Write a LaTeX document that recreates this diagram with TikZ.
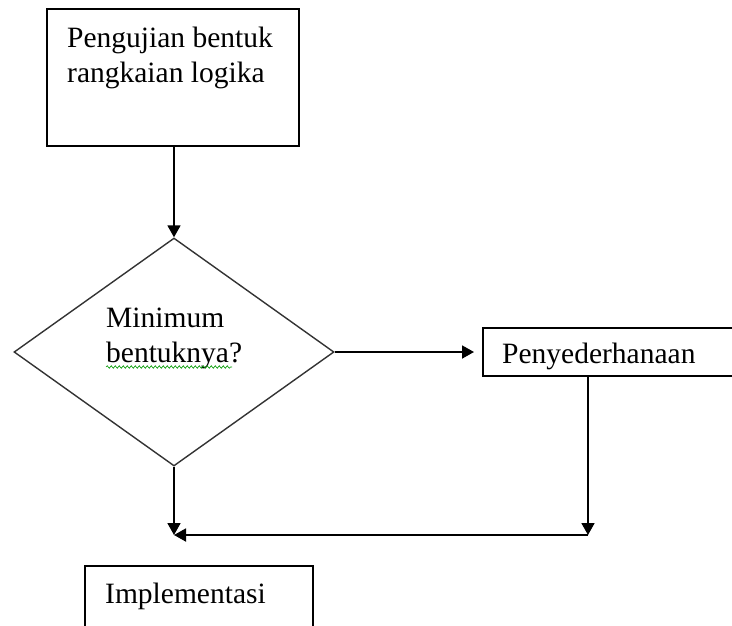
\documentclass[tikz,border=0pt]{standalone}
\usepackage{fontspec}
\setmainfont{Liberation Serif}
\usetikzlibrary{arrows.meta,shapes.geometric,decorations.pathmorphing}
\tikzset{
  box/.style={draw=black, line width=1.8pt, rectangle, inner sep=0pt, anchor=north west},
  dia/.style={draw=black!80, line width=1.4pt, diamond, inner sep=0pt, minimum width=320pt, minimum height=228pt},
  lbl/.style={inner sep=0pt, anchor=base west, align=left, font=\fontsize{29.5}{34.5}\selectfont},
  arr/.style={line width=1.8pt, -{Triangle[length=12pt,width=13pt]}},
  ln/.style={line width=1.8pt}
}
\begin{document}
\begin{tikzpicture}[x=1pt,y=1pt]
\useasboundingbox (0,0) rectangle (732,-625);
\clip (0,0) rectangle (732,-625);
% top box
\node[box, minimum width=252pt, minimum height=137pt] (top) at (46,-8) {};
\node[lbl] (toptxt) at (67,-82) {Pengujian bentuk\\rangkaian logika};
% diamond
\node[dia] (dec) at (174,-352) {};
\node[lbl] (dectxt) at (106,-362) {Minimum\\bentuknya?};
\draw[green!60!black, line width=0.6pt, decorate, decoration={snake, amplitude=1.3pt, segment length=4pt}] (106,-367) -- (232,-367);
% simplification box
\node[box, minimum width=300pt, minimum height=48pt] (simp) at (482,-327) {};
\node[lbl] (simptxt) at (502,-363) {Penyederhanaan};
% implementation box
\node[box, minimum width=228pt, minimum height=100pt] (impl) at (84,-565) {};
\node[lbl] (impltxt) at (105,-603) {Implementasi};
% connectors
\coordinate (jr) at (588,-535);
\coordinate (jl) at (174,-535);
\draw[arr] (top.south -| dec.north) -- (dec.north);
\draw[arr, shorten >=8pt] (dec.east) -- (simp.west |- dec.east);
\draw[arr] (jr |- simp.south) -- (jr);
\draw[arr] (dec.south) -- (jl);
\draw[arr] (jr) -- (jl);
\end{tikzpicture}
\end{document}
